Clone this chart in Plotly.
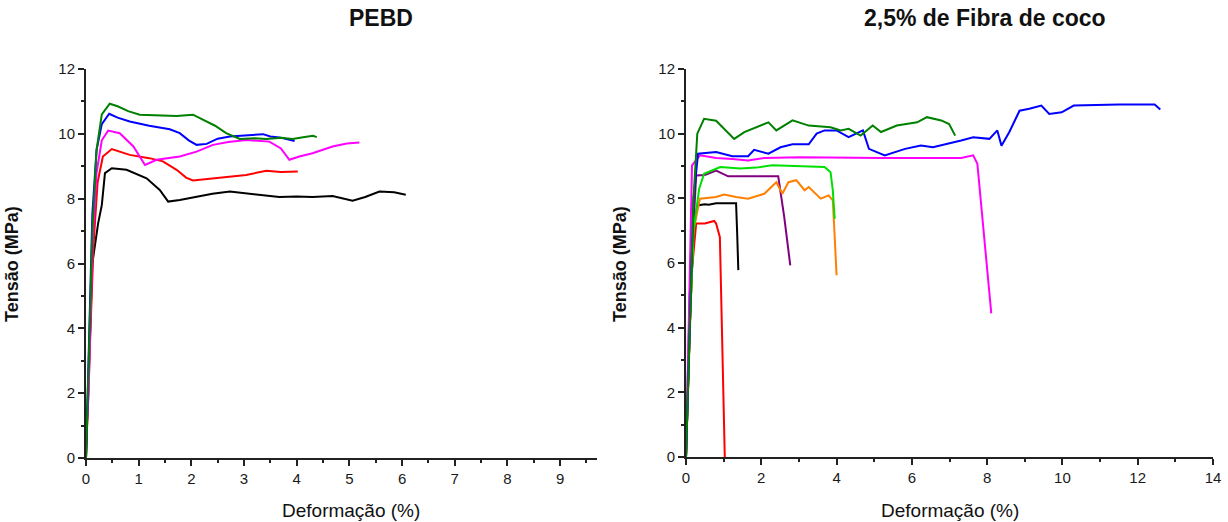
import plotly.graph_objects as go

W, H = 1228, 522

# ---------------- Left panel: PEBD ----------------
pebd_green_x = [0, 0.05, 0.12, 0.2, 0.3, 0.45, 0.6, 0.8, 1.02, 1.3, 1.72, 2.03, 2.2, 2.45, 2.66, 2.92, 3.2, 3.42, 3.7, 3.92, 4.15, 4.31, 4.38]
pebd_green_y = [0, 3.0, 7.0, 9.5, 10.6, 10.93, 10.85, 10.7, 10.59, 10.57, 10.55, 10.59, 10.45, 10.25, 10.02, 9.84, 9.86, 9.84, 9.88, 9.84, 9.9, 9.94, 9.9]

pebd_blue_x = [0, 0.06, 0.12, 0.2, 0.3, 0.44, 0.6, 0.83, 1.2, 1.59, 1.78, 1.95, 2.1, 2.29, 2.5, 2.73, 3.0, 3.36, 3.5, 3.67, 3.96]
pebd_blue_y = [0, 4.0, 7.5, 9.5, 10.3, 10.62, 10.5, 10.38, 10.25, 10.14, 10.02, 9.8, 9.66, 9.69, 9.85, 9.92, 9.95, 9.99, 9.92, 9.89, 9.78]

pebd_mag_x = [0, 0.05, 0.12, 0.2, 0.3, 0.42, 0.64, 0.9, 1.12, 1.34, 1.78, 2.1, 2.41, 2.7, 3.04, 3.3, 3.48, 3.7, 3.86, 4.05, 4.3, 4.68, 4.95, 5.19]
pebd_mag_y = [0.5, 2.0, 6.5, 8.8, 9.8, 10.1, 10.02, 9.61, 9.04, 9.2, 9.3, 9.45, 9.66, 9.75, 9.81, 9.78, 9.76, 9.55, 9.2, 9.3, 9.4, 9.61, 9.7, 9.73]

pebd_red_x = [0, 0.07, 0.14, 0.22, 0.32, 0.49, 0.83, 1.2, 1.46, 1.72, 1.9, 2.03, 2.41, 2.7, 3.04, 3.42, 3.7, 4.02]
pebd_red_y = [0, 3.0, 6.5, 8.5, 9.3, 9.53, 9.35, 9.25, 9.15, 8.89, 8.65, 8.56, 8.63, 8.68, 8.73, 8.86, 8.82, 8.84]

pebd_black_x = [0, 0.06, 0.12, 0.23, 0.3, 0.36, 0.49, 0.77, 1.15, 1.4, 1.56, 1.78, 2.1, 2.4, 2.73, 3.04, 3.4, 3.67, 4.0, 4.3, 4.68, 5.06, 5.3, 5.57, 5.85, 6.07]
pebd_black_y = [0, 3.0, 6.0, 7.24, 7.8, 8.79, 8.94, 8.89, 8.63, 8.27, 7.91, 7.96, 8.06, 8.15, 8.22, 8.17, 8.1, 8.05, 8.07, 8.05, 8.08, 7.94, 8.05, 8.22, 8.2, 8.12]

# ---------------- Right panel: 2,5% de Fibra de coco ----------------
fc_red_x = [0, 0.08, 0.15, 0.27, 0.5, 0.75, 0.8, 0.9, 1.03]
fc_red_y = [0, 3.0, 5.7, 7.22, 7.22, 7.3, 7.22, 6.8, 0]

fc_black_x = [0, 0.1, 0.2, 0.3, 0.5, 0.6, 0.8, 1.33, 1.36, 1.39]
fc_black_y = [0, 4.0, 7.0, 7.78, 7.82, 7.8, 7.85, 7.85, 6.9, 5.78]

fc_purple_x = [0, 0.1, 0.27, 0.5, 0.8, 1.12, 1.6, 2.0, 2.45, 2.61, 2.77]
fc_purple_y = [0, 5.0, 8.71, 8.72, 8.86, 8.68, 8.68, 8.68, 8.68, 7.42, 5.93]

fc_orange_x = [0, 0.1, 0.2, 0.37, 0.8, 1.01, 1.33, 1.65, 2.08, 2.4, 2.56, 2.72, 2.93, 3.15, 3.26, 3.58, 3.79, 3.9, 3.95, 4.0]
fc_orange_y = [0, 4.0, 7.0, 7.99, 8.04, 8.12, 8.04, 7.99, 8.14, 8.5, 8.14, 8.5, 8.56, 8.25, 8.35, 7.99, 8.09, 7.94, 6.81, 5.62]

fc_lime_x = [0, 0.1, 0.2, 0.35, 0.48, 0.91, 1.44, 1.87, 2.29, 3.04, 3.68, 3.84, 3.9, 3.95]
fc_lime_y = [0, 4.0, 7.0, 8.3, 8.76, 8.97, 8.92, 8.95, 9.02, 8.99, 8.97, 8.81, 8.25, 7.37]

fc_green_x = [0, 0.1, 0.2, 0.3, 0.48, 0.8, 1.01, 1.28, 1.55, 1.97, 2.19, 2.4, 2.83, 3.26, 3.84, 4.11, 4.32, 4.64, 4.96, 5.18, 5.6, 6.14, 6.4, 6.78, 6.99, 7.15]
fc_green_y = [0, 4.0, 8.0, 10.0, 10.46, 10.4, 10.15, 9.84, 10.05, 10.25, 10.35, 10.1, 10.41, 10.25, 10.2, 10.1, 10.15, 9.94, 10.25, 10.05, 10.25, 10.35, 10.51, 10.41, 10.3, 9.94]

fc_blue_x = [0, 0.1, 0.2, 0.32, 0.8, 1.23, 1.65, 1.81, 2.19, 2.51, 2.83, 3.26, 3.47, 3.68, 4.0, 4.32, 4.7, 4.86, 5.28, 5.82, 6.24, 6.56, 6.99, 7.31, 7.63, 8.06, 8.27, 8.38, 8.59, 8.86, 9.12, 9.44, 9.65, 9.98, 10.3, 11.5, 12.45, 12.6]
fc_blue_y = [0, 4.0, 8.0, 9.38, 9.43, 9.3, 9.3, 9.5, 9.38, 9.58, 9.67, 9.67, 10.0, 10.1, 10.1, 9.89, 10.1, 9.53, 9.33, 9.53, 9.63, 9.58, 9.69, 9.79, 9.89, 9.84, 10.1, 9.63, 10.05, 10.71, 10.77, 10.87, 10.61, 10.66, 10.87, 10.9, 10.9, 10.75]

fc_mag_x = [0, 0.02, 0.16, 0.37, 0.8, 1.23, 1.65, 2.08, 3.04, 5.18, 7.31, 7.63, 7.74, 8.11]
fc_mag_y = [0, 1.0, 9.02, 9.33, 9.25, 9.22, 9.17, 9.25, 9.27, 9.25, 9.25, 9.33, 9.07, 4.44]

left_series = [
    (pebd_black_x, pebd_black_y, "#000000"),
    (pebd_red_x, pebd_red_y, "#ff0000"),
    (pebd_mag_x, pebd_mag_y, "#ff00ff"),
    (pebd_blue_x, pebd_blue_y, "#0000ff"),
    (pebd_green_x, pebd_green_y, "#008000"),
]
right_series = [
    (fc_red_x, fc_red_y, "#ff0000"),
    (fc_black_x, fc_black_y, "#000000"),
    (fc_purple_x, fc_purple_y, "#800080"),
    (fc_orange_x, fc_orange_y, "#ff8000"),
    (fc_lime_x, fc_lime_y, "#00e000"),
    (fc_mag_x, fc_mag_y, "#ff00ff"),
    (fc_blue_x, fc_blue_y, "#0000ff"),
    (fc_green_x, fc_green_y, "#008000"),
]

fig = go.Figure()
for x, y, c in left_series:
    fig.add_trace(go.Scatter(x=x, y=y, mode="lines", line=dict(color=c, width=2),
                             xaxis="x", yaxis="y", showlegend=False))
for x, y, c in right_series:
    fig.add_trace(go.Scatter(x=x, y=y, mode="lines", line=dict(color=c, width=2),
                             xaxis="x2", yaxis="y2", showlegend=False))

FONT = "Liberation Sans, Arial, sans-serif"
tickfont = dict(family=FONT, size=15, color="#1a1a1a")

def axis_common():
    return dict(showline=True, linecolor="#222222", linewidth=2, ticks="outside",
                ticklen=6, tickwidth=2, tickcolor="#222222", showgrid=False,
                zeroline=False, tickfont=tickfont, mirror=False, fixedrange=True,
                automargin=False)

minor = lambda d: dict(ticks="outside", ticklen=3, tickwidth=2, dtick=d, tickcolor="#222222")

def px_x(px):
    return px / W

def px_y(py):
    return 1 - py / H

fig.update_layout(
    width=W, height=H,
    margin=dict(l=0, r=0, t=0, b=0, pad=0, autoexpand=False),
    paper_bgcolor="white", plot_bgcolor="white",
    xaxis=dict(domain=[px_x(86), px_x(597)], range=[0, 9.7], dtick=1, anchor="y",
               minor=minor(0.5), **axis_common()),
    yaxis=dict(domain=[px_y(458), px_y(69)], range=[0, 12], dtick=2, anchor="x",
               minor=minor(1), **axis_common()),
    xaxis2=dict(domain=[px_x(686), px_x(1213)], range=[0, 14], dtick=2, anchor="y2",
                minor=minor(1), **axis_common()),
    yaxis2=dict(domain=[px_y(457), px_y(69)], range=[0, 12], dtick=2, anchor="x2",
                minor=minor(1), **axis_common()),
)

def ann(text, px, py, size, bold=False, angle=0):
    t = f"<b>{text}</b>" if bold else text
    fig.add_annotation(text=t, x=px_x(px), y=px_y(py), xref="paper", yref="paper",
                       showarrow=False, textangle=angle, xanchor="center", yanchor="middle",
                       font=dict(family=FONT, size=size, color="#111111"))

ann("PEBD", 381, 18, 23, bold=True)
ann("2,5% de Fibra de coco", 985, 18, 23, bold=True)
ann("Tensão (MPa)", 12, 264, 18, bold=True, angle=-90)
ann("Tensão (MPa)", 620, 264, 18, bold=True, angle=-90)
ann("Deformação (%)", 351, 510, 19)
ann("Deformação (%)", 950, 510, 19)

# remove the default page margin so the figure sits at the window's top-left corner
fig.write_html("out.html", config={"displayModeBar": False},
               post_script="document.body.style.margin='0';")
